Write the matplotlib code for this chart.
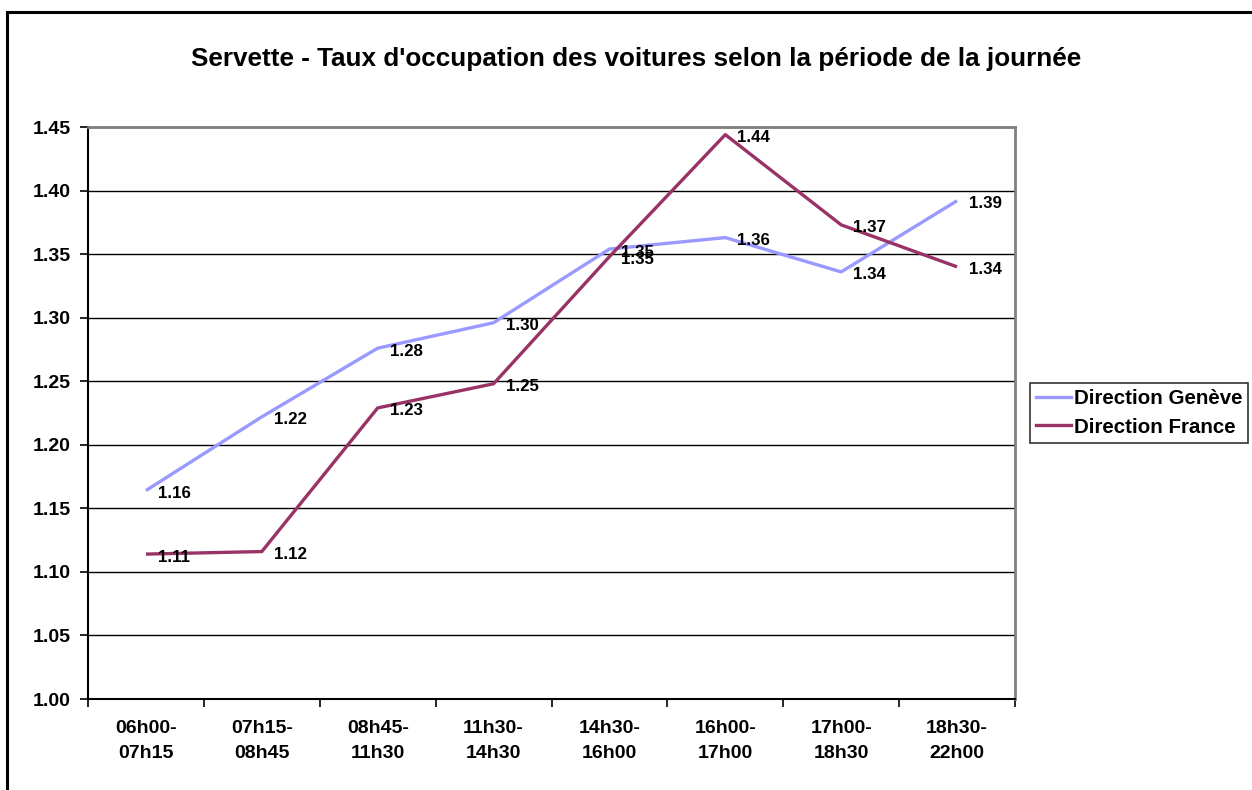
import matplotlib
matplotlib.use("Agg")
import matplotlib.pyplot as plt
from matplotlib.patches import Rectangle
from matplotlib.lines import Line2D

categories = ["06h00-\n07h15", "07h15-\n08h45", "08h45-\n11h30", "11h30-\n14h30",
              "14h30-\n16h00", "16h00-\n17h00", "17h00-\n18h30", "18h30-\n22h00"]
geneve = [1.164, 1.222, 1.276, 1.296, 1.354, 1.363, 1.336, 1.392]
france = [1.114, 1.116, 1.229, 1.248, 1.348, 1.444, 1.373, 1.340]
series_names = ["Direction Genève", "Direction France"]
yticks = [1.00, 1.05, 1.10, 1.15, 1.20, 1.25, 1.30, 1.35, 1.40, 1.45]

plt.rcParams['font.family'] = ['Liberation Sans', 'DejaVu Sans']
plt.rcParams['font.weight'] = 'bold'

W, H = 1252, 790
fig = plt.figure(figsize=(W / 100, H / 100), dpi=100)
fig.patch.set_facecolor('white')

# outer chart border
fig.patches.append(Rectangle((7 / W, -0.05), 1.2, (H - 12) / H + 0.05, transform=fig.transFigure,
                             fill=False, edgecolor='black', linewidth=2.2, zorder=0))

L, R, T, B = 88, 1015, 127, 699
ax = fig.add_axes([L / W, (H - B) / H, (R - L) / W, (B - T) / H])

x = list(range(len(categories)))
ax.set_xlim(-0.5, len(categories) - 0.5)
ax.set_ylim(1.0, 1.45)

c_gen = '#9999FF'
c_fra = '#993366'
ax.plot(x, geneve, color=c_gen, lw=2.4, zorder=3, solid_capstyle='butt', label=series_names[0])
ax.plot(x, france, color=c_fra, lw=2.4, zorder=4, solid_capstyle='butt', label=series_names[1])

for xi, v in zip(x, geneve):
    ax.annotate(f"{v:.2f}", (xi, v), xytext=(12, -3), textcoords='offset pixels',
                ha='left', va='center', fontsize=12.2, fontweight='bold', zorder=5)
for xi, v in zip(x, france):
    ax.annotate(f"{v:.2f}", (xi, v), xytext=(12, -3), textcoords='offset pixels',
                ha='left', va='center', fontsize=12.2, fontweight='bold', zorder=5)

ax.set_yticks(yticks)
ax.set_yticklabels([f"{t:.2f}" for t in yticks], fontsize=14, fontweight='bold')
ax.yaxis.grid(True, color='black', lw=1.0)
ax.set_axisbelow(True)

ax.set_xticks([i - 0.5 for i in range(len(categories) + 1)])
ax.set_xticklabels([])
ax.set_xticks(x, minor=True)
ax.set_xticklabels(categories, minor=True, fontsize=14, fontweight='bold', linespacing=1.65)
ax.tick_params(axis='x', which='minor', length=0, pad=15)
ax.tick_params(axis='x', which='major', length=6, width=1.2, direction='out', color='black')
ax.tick_params(axis='y', length=6, width=1.2, direction='out', color='black', pad=6.5)

for s in ['left', 'bottom']:
    ax.spines[s].set_color('black')
    ax.spines[s].set_linewidth(1.5)
for s in ['top', 'right']:
    ax.spines[s].set_color('#808080')
    ax.spines[s].set_linewidth(2.0)

fig.text(636 / W, 1 - 59 / H, "Servette - Taux d'occupation des voitures selon la période de la journée",
         ha='center', va='center', fontsize=18.8, fontweight='bold')

handles = [Line2D([], [], color=c_gen, lw=2.4), Line2D([], [], color=c_fra, lw=2.4)]
leg = fig.legend(handles, series_names, loc='center left',
                 bbox_to_anchor=(1030 / W, 1 - 413 / H), fontsize=14.8, frameon=True,
                 fancybox=False, edgecolor='black', handlelength=1.7, handletextpad=0.12,
                 borderpad=0.3, labelspacing=0.45, borderaxespad=0)
leg.get_frame().set_linewidth(1.2)
for t in leg.get_texts():
    t.set_fontweight('bold')

fig.savefig("out.png", dpi=100, facecolor='white')
